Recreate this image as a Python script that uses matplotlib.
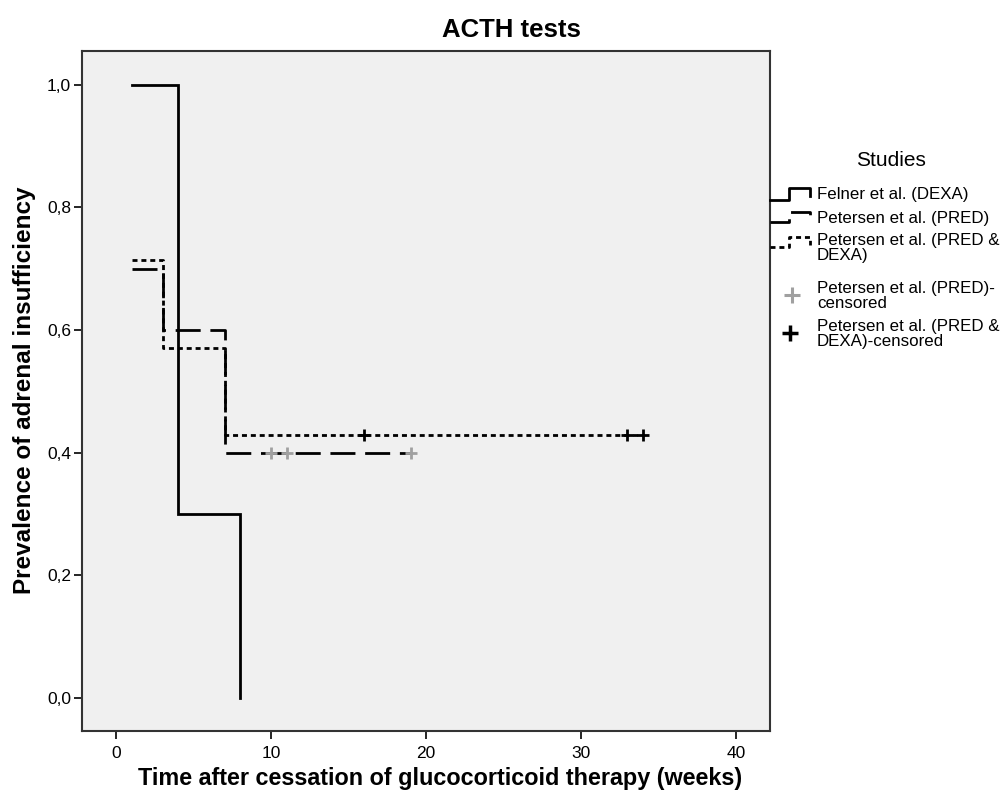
import matplotlib
matplotlib.use("Agg")
import matplotlib.pyplot as plt

plt.rcParams['font.family'] = ['Liberation Sans', 'DejaVu Sans']

# ---- data ----
felner_t = [1, 4, 8]
felner_s = [1.0, 0.3, 0.0]
pred_t = [1, 3, 7, 19]
pred_s = [0.70, 0.60, 0.40, 0.40]
pd_t = [1, 3, 7, 34]
pd_s = [0.714, 0.571, 0.429, 0.429]
pred_cens_t = [10, 11, 19]
pred_cens_s = [0.40, 0.40, 0.40]
pd_cens_t = [16, 33, 34]
pd_cens_s = [0.429, 0.429, 0.429]
xticks = [0, 10, 20, 30, 40]
yticks = [0.0, 0.2, 0.4, 0.6, 0.8, 1.0]
ytick_labels = ["0,0", "0,2", "0,4", "0,6", "0,8", "1,0"]
legend_labels = ["Felner et al. (DEXA)", "Petersen et al. (PRED)",
                 "Petersen et al. (PRED &\nDEXA)", "Petersen et al. (PRED)-\ncensored",
                 "Petersen et al. (PRED &\nDEXA)-censored"]

W, H = 1008, 802
fig = plt.figure(figsize=(W / 100, H / 100), dpi=100)
L, R, T, B = 82, 770, 51, 731
ax = fig.add_axes([L / W, 1 - B / H, (R - L) / W, (B - T) / H])
ax.set_facecolor('#f0f0f0')

lw = 2.0
ax.step(felner_t, felner_s, where='post', color='black', lw=lw, solid_joinstyle='miter')
ax.step(pred_t, pred_s, where='post', color='black', lw=lw, dashes=(9, 3.5))
ax.step(pd_t, pd_s, where='post', color='black', lw=lw, dashes=(1.8, 1.4))
ax.plot(pred_cens_t, pred_cens_s, ls='none', marker='+', ms=9, mew=2, color='#a0a0a0')
ax.plot(pd_cens_t, pd_cens_s, ls='none', marker='+', ms=9, mew=2, color='black')

ax.set_xlim(-2.2, 42.2)
ax.set_ylim(-0.054, 1.055)
ax.set_xticks(xticks)
ax.set_yticks(yticks)
ax.set_yticklabels(ytick_labels)
ax.tick_params(direction='out', length=6, width=1.2, labelsize=12.5, colors='black')
ax.tick_params(axis='x', pad=5)
ax.tick_params(axis='y', pad=2)
for s in ax.spines.values():
    s.set_linewidth(1.5)
    s.set_color('#333333')

fig.text(511 / W, 1 - 30 / H, "ACTH tests", ha='center', va='center', fontsize=18.5, fontweight='bold')
fig.text(440 / W, 1 - 778 / H, "Time after cessation of glucocorticoid therapy (weeks)",
         ha='center', va='center', fontsize=16.8, fontweight='bold')
fig.text(25 / W, 1 - 390 / H, "Prevalence of adrenal insufficiency", rotation=90,
         ha='center', va='center', fontsize=17.5, fontweight='bold')

# ---- legend (drawn in pixel coordinates) ----
lg = fig.add_axes([0, 0, 1, 1], facecolor='none')
lg.set_xlim(0, W)
lg.set_ylim(H, 0)
lg.axis('off')
lg.text(891, 160, "Studies", ha='center', va='center', fontsize=15)

def step_glyph(y_low, y_top, y_end, style):
    xs = [770, 789, 789, 810, 810]
    ys = [y_low, y_low, y_top, y_top, y_end]
    kw = dict(color='black', lw=2.0)
    if style == 'dash':
        kw['dashes'] = (8, 3)
    elif style == 'dot':
        kw['dashes'] = (1.8, 1.4)
    lg.plot(xs, ys, **kw)

step_glyph(200, 188, 196, 'solid')
step_glyph(222, 212, 220, 'dash')
step_glyph(247, 237, 245, 'dot')
lg.plot([792], [295], ls='none', marker='+', ms=12, mew=2.2, color='#a0a0a0')
lg.plot([790], [333], ls='none', marker='+', ms=12, mew=2.5, color='black')

ty = [195, 218, 248, 296, 334]
for y, t in zip(ty, legend_labels):
    lg.text(817, y, t, ha='left', va='center', fontsize=12.2, linespacing=1.0)

fig.savefig("out.png", dpi=100)
